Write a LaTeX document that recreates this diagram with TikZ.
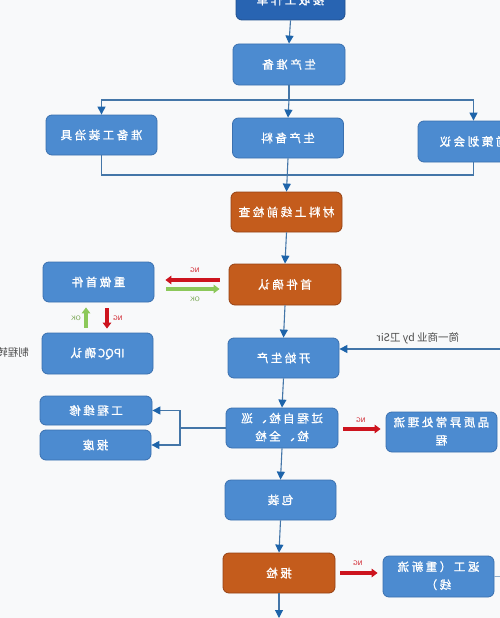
\documentclass[tikz,border=0pt]{standalone}
\usepackage{fontspec}
\newfontfamily\cjk[LetterSpace=22,FakeBold=1.3]{Noto Sans CJK SC}
\newfontfamily\cjklat[FakeBold=1.3]{Noto Sans CJK SC}
\newfontfamily\cjkplain{Noto Sans CJK SC}
\usetikzlibrary{arrows.meta,calc}
\definecolor{bfill}{RGB}{76,139,208}
\definecolor{bdraw}{RGB}{58,112,175}
\definecolor{ofill}{RGB}{196,92,28}
\definecolor{odraw}{RGB}{150,66,20}
\definecolor{tfill}{RGB}{40,100,178}
\definecolor{conn}{RGB}{68,118,168}
\definecolor{tipc}{RGB}{30,100,170}
\definecolor{ngred}{RGB}{205,20,30}
\definecolor{okgreen}{RGB}{140,200,90}
\definecolor{bg}{RGB}{248,249,250}
\newcommand\mt[1]{\reflectbox{#1}}
\tikzset{
  box/.style={rectangle, rounded corners=6pt, draw=bdraw, fill=bfill, line width=0.8pt,
    minimum width=111pt, minimum height=40pt, text=white, inner sep=1pt,
    font=\cjk\fontsize{11.5}{18}\selectfont},
  obox/.style={box, draw=odraw, fill=ofill},
  tbox/.style={box, draw=tfill!80!black, fill=tfill},
  arr/.style={draw=conn, line width=1.1pt, -{Triangle[width=8pt,length=8pt,color=tipc]}},
  ln/.style={draw=conn, line width=1.1pt},
  ng/.style={draw=ngred, line width=3.2pt, -{Triangle[width=8.5pt,length=6pt]}},
  ok/.style={draw=okgreen, line width=3.2pt, -{Triangle[width=8.5pt,length=6pt]}},
  ngt/.style={text=ngred, font=\fontsize{6.5}{7}\selectfont\sffamily, inner sep=0pt},
  okt/.style={text=okgreen!80!black, font=\fontsize{6.5}{7}\selectfont\sffamily, inner sep=0pt},
  wm/.style={text=black!70, font=\cjkplain\fontsize{10.5}{12}\selectfont, inner sep=0pt},
}
\begin{document}
\begin{tikzpicture}[x=1pt,y=-1pt]
\useasboundingbox (0,0) rectangle (500,618);
\fill[bg] (0,0) rectangle (500,618);
% boxes
\node[tbox, minimum width=109pt] (top) at (290.5,0) {\mt{接收工作单}};
\node[box, minimum width=112pt, minimum height=41pt] (prep) at (289,64.5) {\mt{生产准备}};
\node[box] (tool) at (101.5,135) {\mt{准备工装治具}};
\node[box] (mat) at (288,138) {\mt{生产备料}};
\node[box, minimum height=41pt] (meet) at (473.5,141.5) {\mt{前策划会议}};
\node[obox] (check) at (286.5,212) {\mt{材料上线前检查}};
\node[obox, minimum width=112pt, minimum height=41pt] (first) at (285,284.5) {\mt{首件确认}};
\node[box] (redo) at (98.5,282) {\mt{重做首件}};
\node[box, minimum height=41pt] (ipqc) at (97.5,353.5) {\mt{{\cjklat IPQC\,}确认}};
\node[box] (start) at (283.5,358) {\mt{开始生产}};
\node[box, minimum width=112pt] (proc) at (282,428)
  {\mt{\begin{tabular}{@{}c@{}}过程自检、巡\\检、全检\end{tabular}}};
\node[box, minimum width=112pt, minimum height=29pt] (repair) at (96,410.5) {\mt{工程维修}};
\node[box, minimum height=30pt] (scrap) at (95.5,445) {\mt{报废}};
\node[box] (qual) at (441.5,432)
  {\mt{\begin{tabular}{@{}c@{}}品质异常处理流\\程\end{tabular}}};
\node[box] (pack) at (280.5,500) {\mt{包装}};
\node[obox, minimum width=112pt] (insp) at (279,573) {\mt{报检}};
\node[box, minimum height=41pt] (rework) at (438.5,576.5)
  {\mt{\begin{tabular}{@{}c@{}}返工（重新流\\线）\end{tabular}}};
% free texts
\node[wm, anchor=center] (wmark) at (418,338) {\mt{简一商业 by 卫Sir}};
\node[wm, anchor=east] (side) at (29,353) {\mt{制程转}};
% coordinates
\coordinate (split) at (289,100);
\coordinate (join) at (288,175);
\coordinate (ext) at (500,349);
\coordinate (br) at (180,428);
\coordinate (bot) at (279,618);
\coordinate (rext) at (500,576.5);
% connectors
\draw[arr] (top.south) -- (prep.north);
\draw[ln] (prep.south) -- (split);
\draw[arr] (split) -| (tool.north);
\draw[arr] (split) -| (meet.north);
\draw[arr] (split) -- (mat.north);
\draw[ln] (tool.south) |- (join) -| (meet.south);
\draw[arr] (mat.south) -- (check.north);
\draw[arr] (check.south) -- (first.north);
\draw[arr] (first.south) -- (start.north);
\draw[arr] (ext) -- (start.east |- ext);
\draw[arr] (start.south) -- (proc.north);
\draw[ln] (proc.west) -- (br);
\draw[arr] (br) |- (repair.east);
\draw[arr] (br) |- (scrap.east);
\draw[arr] (proc.south) -- (pack.north);
\draw[arr] (pack.south) -- (insp.north);
\draw[arr] (insp.south) -- (bot);
\draw[ln, draw=conn!60] (rework.east) -- (rext);
% NG / OK arrows
\draw[ng] ($(first.west)+(-9,-4.5)$) -- ($(redo.east)+(11,-2)$);
\node[ngt] (ng1) at (195,270) {\mt{NG}};
\draw[ok] ($(redo.east)+(12,7)$) -- ($(first.west)+(-9,4.5)$);
\node[okt] (ok1) at (195,299) {\mt{OK}};
\draw[ok] ($(ipqc.north)+(-11.5,-5)$) -- ($(redo.south)+(-12.5,5)$);
\node[okt] (ok2) at (76,318) {\mt{OK}};
\draw[ng] ($(redo.south)+(8.5,6)$) -- ($(ipqc.north)+(9.5,-4)$);
\node[ngt] (ng2) at (118,318) {\mt{NG}};
\draw[ng] ($(proc.east)+(5,1)$) -- ($(qual.west)+(-5,-3)$);
\node[ngt] (ng3) at (361,420) {\mt{NG}};
\draw[ng] ($(insp.east)+(5,0)$) -- ($(rework.west)+(-5,-3.5)$);
\node[ngt] (ng4) at (358,563) {\mt{NG}};
\end{tikzpicture}
\end{document}
